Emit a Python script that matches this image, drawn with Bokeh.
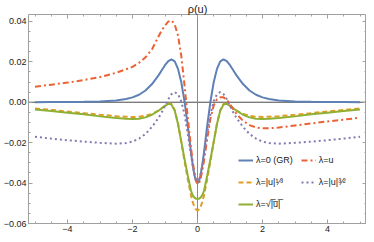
from bokeh.plotting import figure
from bokeh.models import (Range1d, Span, Legend, LegendItem, LinearAxis,
                          FixedTicker, CustomJSTickFormatter)
from bokeh.embed import file_html
from bokeh.resources import INLINE

# ---- data ----
u = [-5.0, -4.5, -4.0, -3.5, -3.0, -2.5, -2.2, -2.0, -1.8, -1.6, -1.4, -1.2, -1.1,
     -1.0, -0.9, -0.8, -0.7, -0.6, -0.5, -0.4, -0.3, -0.2, -0.15, -0.1, -0.05,
     0.0, 0.05, 0.1, 0.15, 0.2, 0.3, 0.4, 0.5, 0.6, 0.7, 0.8, 0.9, 1.0,
     1.1, 1.2, 1.4, 1.6, 1.8, 2.0, 2.2, 2.5, 3.0, 3.5, 4.0, 4.5, 5.0]

rho_gr = [0.0000, 0.0001, 0.0001, 0.0002, 0.0004, 0.0009, 0.0016, 0.0024, 0.0037, 0.0058,
          0.0090, 0.0133, 0.0158, 0.0183, 0.0203, 0.0212, 0.0202, 0.0165, 0.0100, 0.0005,
          -0.0115, -0.0248, -0.0308, -0.0356, -0.0388,
          -0.0400,
          -0.0388, -0.0356, -0.0308, -0.0248, -0.0115, 0.0005, 0.0100, 0.0165, 0.0202,
          0.0212, 0.0203, 0.0183, 0.0158, 0.0133, 0.0090, 0.0058, 0.0037, 0.0024, 0.0016,
          0.0009, 0.0004, 0.0002, 0.0001, 0.0001, 0.0000]

rho_u = [0.0077, 0.0087, 0.0097, 0.0110, 0.0124, 0.0146, 0.0163, 0.0175, 0.0195, 0.0222,
         0.0262, 0.0325, 0.0355, 0.0380, 0.0399, 0.0405, 0.0385, 0.0330, 0.0230, 0.0085,
         -0.0075, -0.0225, -0.0290, -0.0345, -0.0385,
         -0.0405,
         -0.0400, -0.0375, -0.0335, -0.0290, -0.0180, -0.0080, -0.0015, 0.0015, 0.0024,
         0.0024, 0.0012, -0.0010, -0.0035, -0.0058, -0.0092, -0.0113, -0.0125, -0.0129,
         -0.0129, -0.0125, -0.0115, -0.0105, -0.0095, -0.0086, -0.0077]

rho_cbrt = [-0.0031, -0.0038, -0.0046, -0.0054, -0.0062, -0.0069, -0.0072, -0.0073, -0.0072,
            -0.0067, -0.0058, -0.0042, -0.0030, -0.0018, -0.0007, -0.0008, -0.0040, -0.0105,
            -0.0195, -0.0290, -0.0380, -0.0460, -0.0492, -0.0516, -0.0530,
            -0.0535,
            -0.0530, -0.0516, -0.0492, -0.0460, -0.0380, -0.0290, -0.0195, -0.0105, -0.0040,
            -0.0008, -0.0007, -0.0018, -0.0030, -0.0042, -0.0058, -0.0067, -0.0072, -0.0073,
            -0.0072, -0.0069, -0.0062, -0.0054, -0.0046, -0.0038, -0.0031]

rho_sqrt = [-0.0036, -0.0044, -0.0052, -0.0060, -0.0070, -0.0078, -0.0082, -0.0083, -0.0082,
            -0.0075, -0.0062, -0.0042, -0.0030, -0.0018, -0.0008, -0.0012, -0.0042, -0.0108,
            -0.0195, -0.0280, -0.0362, -0.0438, -0.0460, -0.0471, -0.0477,
            -0.0478,
            -0.0477, -0.0471, -0.0460, -0.0438, -0.0362, -0.0280, -0.0195, -0.0108, -0.0042,
            -0.0012, -0.0008, -0.0018, -0.0030, -0.0042, -0.0062, -0.0075, -0.0082, -0.0083,
            -0.0082, -0.0078, -0.0070, -0.0060, -0.0052, -0.0044, -0.0036]

rho_32 = [-0.0171, -0.0180, -0.0188, -0.0195, -0.0201, -0.0205, -0.0202, -0.0195, -0.0180,
          -0.0157, -0.0122, -0.0078, -0.0050, -0.0018, 0.0015, 0.0040, 0.0050, 0.0040,
          0.0005, -0.0060, -0.0155, -0.0262, -0.0310, -0.0352, -0.0380,
          -0.0390,
          -0.0380, -0.0352, -0.0310, -0.0262, -0.0155, -0.0060, 0.0005, 0.0040, 0.0050,
          0.0040, 0.0015, -0.0018, -0.0050, -0.0078, -0.0122, -0.0157, -0.0180, -0.0195,
          -0.0202, -0.0205, -0.0201, -0.0195, -0.0188, -0.0180, -0.0171]

x_ticks = [-4, -2, 0, 2, 4]
x_minor = [i * 0.5 for i in range(-10, 11)]
y_ticks = [-0.06, -0.04, -0.02, 0.0, 0.02, 0.04]
y_minor = [round(-0.06 + i * 0.005, 3) for i in range(0, 21)]

labels = ["λ=0 (GR)", "λ=|u|¹⁄³", "λ=√|\u0305u\u0305|\u0305", "λ=u", "λ=|u|³⁄²"]

# ---- styling ----
BLUE, ORANGE, GREEN, RED, PURPLE = "#5E81B5", "#E19C24", "#8FB032", "#EB6235", "#8778B3"
FONT = "Liberation Sans"
FRAME = "#a0a0a0"

p = figure(width=366, height=234, output_backend="svg", toolbar_location=None,
           x_range=Range1d(-5.2, 5.2), y_range=Range1d(-0.06, 0.0434),
           min_border_left=26, min_border_right=0, min_border_top=0, min_border_bottom=0,
           background_fill_color="white", border_fill_color="white")
p.grid.visible = False
p.outline_line_color = FRAME

p.title.text = "ρ(u)"
p.title.align = "center"
p.title.text_font = FONT
p.title.text_font_size = "11px"
p.title.text_font_style = "normal"
p.title.text_color = "#222222"
p.title.standoff = 0
p.title.offset = 0

fmt_x = CustomJSTickFormatter(code="return tick.toFixed(0).replace('-', '\u2212');")
fmt_y = CustomJSTickFormatter(code="return tick.toFixed(2).replace('-', '\u2212');")
fmt_none = CustomJSTickFormatter(code="return '';")


def style_axis(ax, ticker, fmt, labels_on=True):
    ax.ticker = ticker
    ax.formatter = fmt
    ax.axis_line_color = None
    ax.major_tick_line_color = FRAME
    ax.minor_tick_line_color = FRAME
    ax.major_tick_in = 4
    ax.major_tick_out = 0
    ax.minor_tick_in = 2
    ax.minor_tick_out = 0
    if labels_on:
        ax.major_label_text_font = FONT
        ax.major_label_text_font_size = "9px"
        ax.major_label_text_color = "#222222"
        ax.major_label_standoff = 2
    else:
        ax.major_label_text_font_size = "1px"
        ax.major_label_standoff = 0


style_axis(p.xaxis[0], FixedTicker(ticks=x_ticks, minor_ticks=x_minor), fmt_x)
style_axis(p.yaxis[0], FixedTicker(ticks=y_ticks, minor_ticks=y_minor), fmt_y)

top_ax = LinearAxis()
style_axis(top_ax, FixedTicker(ticks=x_ticks, minor_ticks=x_minor), fmt_none, labels_on=False)
p.add_layout(top_ax, "above")
right_ax = LinearAxis()
style_axis(right_ax, FixedTicker(ticks=y_ticks, minor_ticks=y_minor), fmt_none, labels_on=False)
p.add_layout(right_ax, "right")

p.add_layout(Span(location=0, dimension="width", line_color="#4a4a4a", line_width=1, level="underlay"))
p.add_layout(Span(location=0, dimension="height", line_color="#8a8a8a", line_width=1, level="underlay"))

r_gr = p.line(u, rho_gr, line_color=BLUE, line_width=2)
r_cb = p.line(u, rho_cbrt, line_color=ORANGE, line_width=2, line_dash="5 3")
r_sq = p.line(u, rho_sqrt, line_color=GREEN, line_width=2)
r_u = p.line(u, rho_u, line_color=RED, line_width=2, line_dash="6 3 2 3")
r_32 = p.line(u, rho_32, line_color=PURPLE, line_width=2, line_dash="2 3")

legend = Legend(items=[LegendItem(label=labels[0], renderers=[r_gr]),
                       LegendItem(label=labels[1], renderers=[r_cb]),
                       LegendItem(label=labels[2], renderers=[r_sq]),
                       LegendItem(label=labels[3], renderers=[r_u]),
                       LegendItem(label=labels[4], renderers=[r_32])],
                location=(210, 12), orientation="vertical", nrows=3,
                glyph_width=15, glyph_height=14, label_height=14, label_standoff=3,
                spacing=8, padding=0, margin=0,
                label_text_font=FONT, label_text_font_size="9px", label_text_color="#222222",
                border_line_color=None, background_fill_alpha=0)
p.add_layout(legend)

open("out.html", "w").write(file_html(p, INLINE))
